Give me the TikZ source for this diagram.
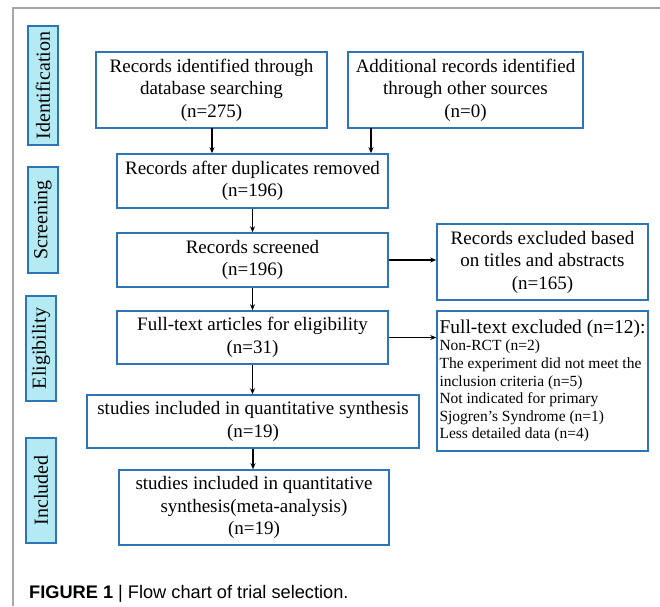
\documentclass[tikz,border=0pt]{standalone}
\usepackage{fontspec}
\setmainfont{Liberation Serif}
\newfontfamily\capfont{Liberation Sans}
\usetikzlibrary{arrows.meta}
\definecolor{boxblue}{HTML}{2E75B6}
\definecolor{labfill}{HTML}{B4EAF4}
\definecolor{frame}{HTML}{A6A6A6}
\tikzset{
  flowbox/.style={draw=boxblue, line width=1.6pt, fill=white, rectangle, align=center,
    inner sep=0pt, font=\fontsize{19}{22.5}\selectfont},
  stagelabel/.style={draw=boxblue, line width=1.6pt, fill=labfill, rectangle, rotate=90,
    inner sep=0pt, minimum height=30pt, font=\fontsize{20}{22}\selectfont},
  flowarrow/.style={draw=black, line width=1.4pt, -{Stealth[length=6pt,width=5pt]}},
}
\begin{document}
\begin{tikzpicture}[x=1pt,y=-1pt]
\useasboundingbox (0,0) rectangle (660,606);
% frame
\draw[frame, line width=1.8pt] (13,606) -- (13,8) -- (660,8);
% stage labels
\node[stagelabel, minimum width=119pt] (lid) at (43,85.5) {Identification};
\node[stagelabel, minimum width=106pt] (lsc) at (43,220) {Screening};
\node[stagelabel, minimum width=105pt] (lel) at (41,348.5) {Eligibility};
\node[stagelabel, minimum width=105pt] (lin) at (41,490.5) {Included};
% boxes
\node[flowbox, minimum width=231pt, minimum height=76pt] (b1) at (211.5,90)
  {Records identified through\\database searching\\(n=275)};
\node[flowbox, minimum width=235pt, minimum height=76pt] (b2) at (465.5,90)
  {Additional records identified\\through other sources\\(n=0)};
\node[flowbox, minimum width=271pt, minimum height=54pt] (b3) at (252.5,181)
  {Records after duplicates removed\\(n=196)};
\node[flowbox, minimum width=271pt, minimum height=54pt] (b4) at (252.5,260)
  {Records screened\\(n=196)};
\node[flowbox, minimum width=271pt, minimum height=53pt] (b5) at (252.5,337.5)
  {Full-text articles for eligibility\\(n=31)};
\node[flowbox, minimum width=332pt, minimum height=53pt] (b6) at (253,421.5)
  {studies included in quantitative synthesis\\(n=19)};
\node[flowbox, minimum width=270pt, minimum height=75pt] (b7) at (254,507.5)
  {studies included in quantitative\\synthesis(meta-analysis)\\(n=19)};
\node[flowbox, minimum width=211pt, minimum height=76pt] (e1) at (542.5,262)
  {Records excluded based\\on titles and abstracts\\(n=165)};
\node[flowbox, minimum width=211pt, minimum height=140pt, align=left,
      font=\fontsize{15.5}{17.6}\selectfont] (e2) at (542.5,381)
  {{\fontsize{19.5}{22}\selectfont Full-text excluded (n=12):}\\
   Non-RCT (n=2)\\
   The experiment did not meet the\\
   inclusion criteria (n=5)\\
   Not indicated for primary\\
   Sjogren’s Syndrome (n=1)\\
   Less detailed data (n=4)};
% arrows
\coordinate (a1) at (212,128);
\coordinate (a2) at (371,128);
\draw[flowarrow] (a1) -- (a1 |- b3.north);
\draw[flowarrow] (a2) -- (a2 |- b3.north);
\draw[flowarrow] (b3.south) -- (b3.south |- b4.north);
\draw[flowarrow] (b4.south) -- (b4.south |- b5.north);
\draw[flowarrow] (b5.south) -- (b5.south |- b6.north);
\draw[flowarrow] (b6.south) -- (b6.south |- b7.north);
\draw[flowarrow] (b4.east) -- (b4.east -| e1.west);
\draw[flowarrow] (b5.east) -- (b5.east -| e2.west);
% caption
\node[anchor=base west, inner sep=0pt, font=\capfont\fontsize{18.2}{22}\selectfont] (cap) at (29,598)
  {\textbf{FIGURE 1} | Flow chart of trial selection.};
\end{tikzpicture}
\end{document}
